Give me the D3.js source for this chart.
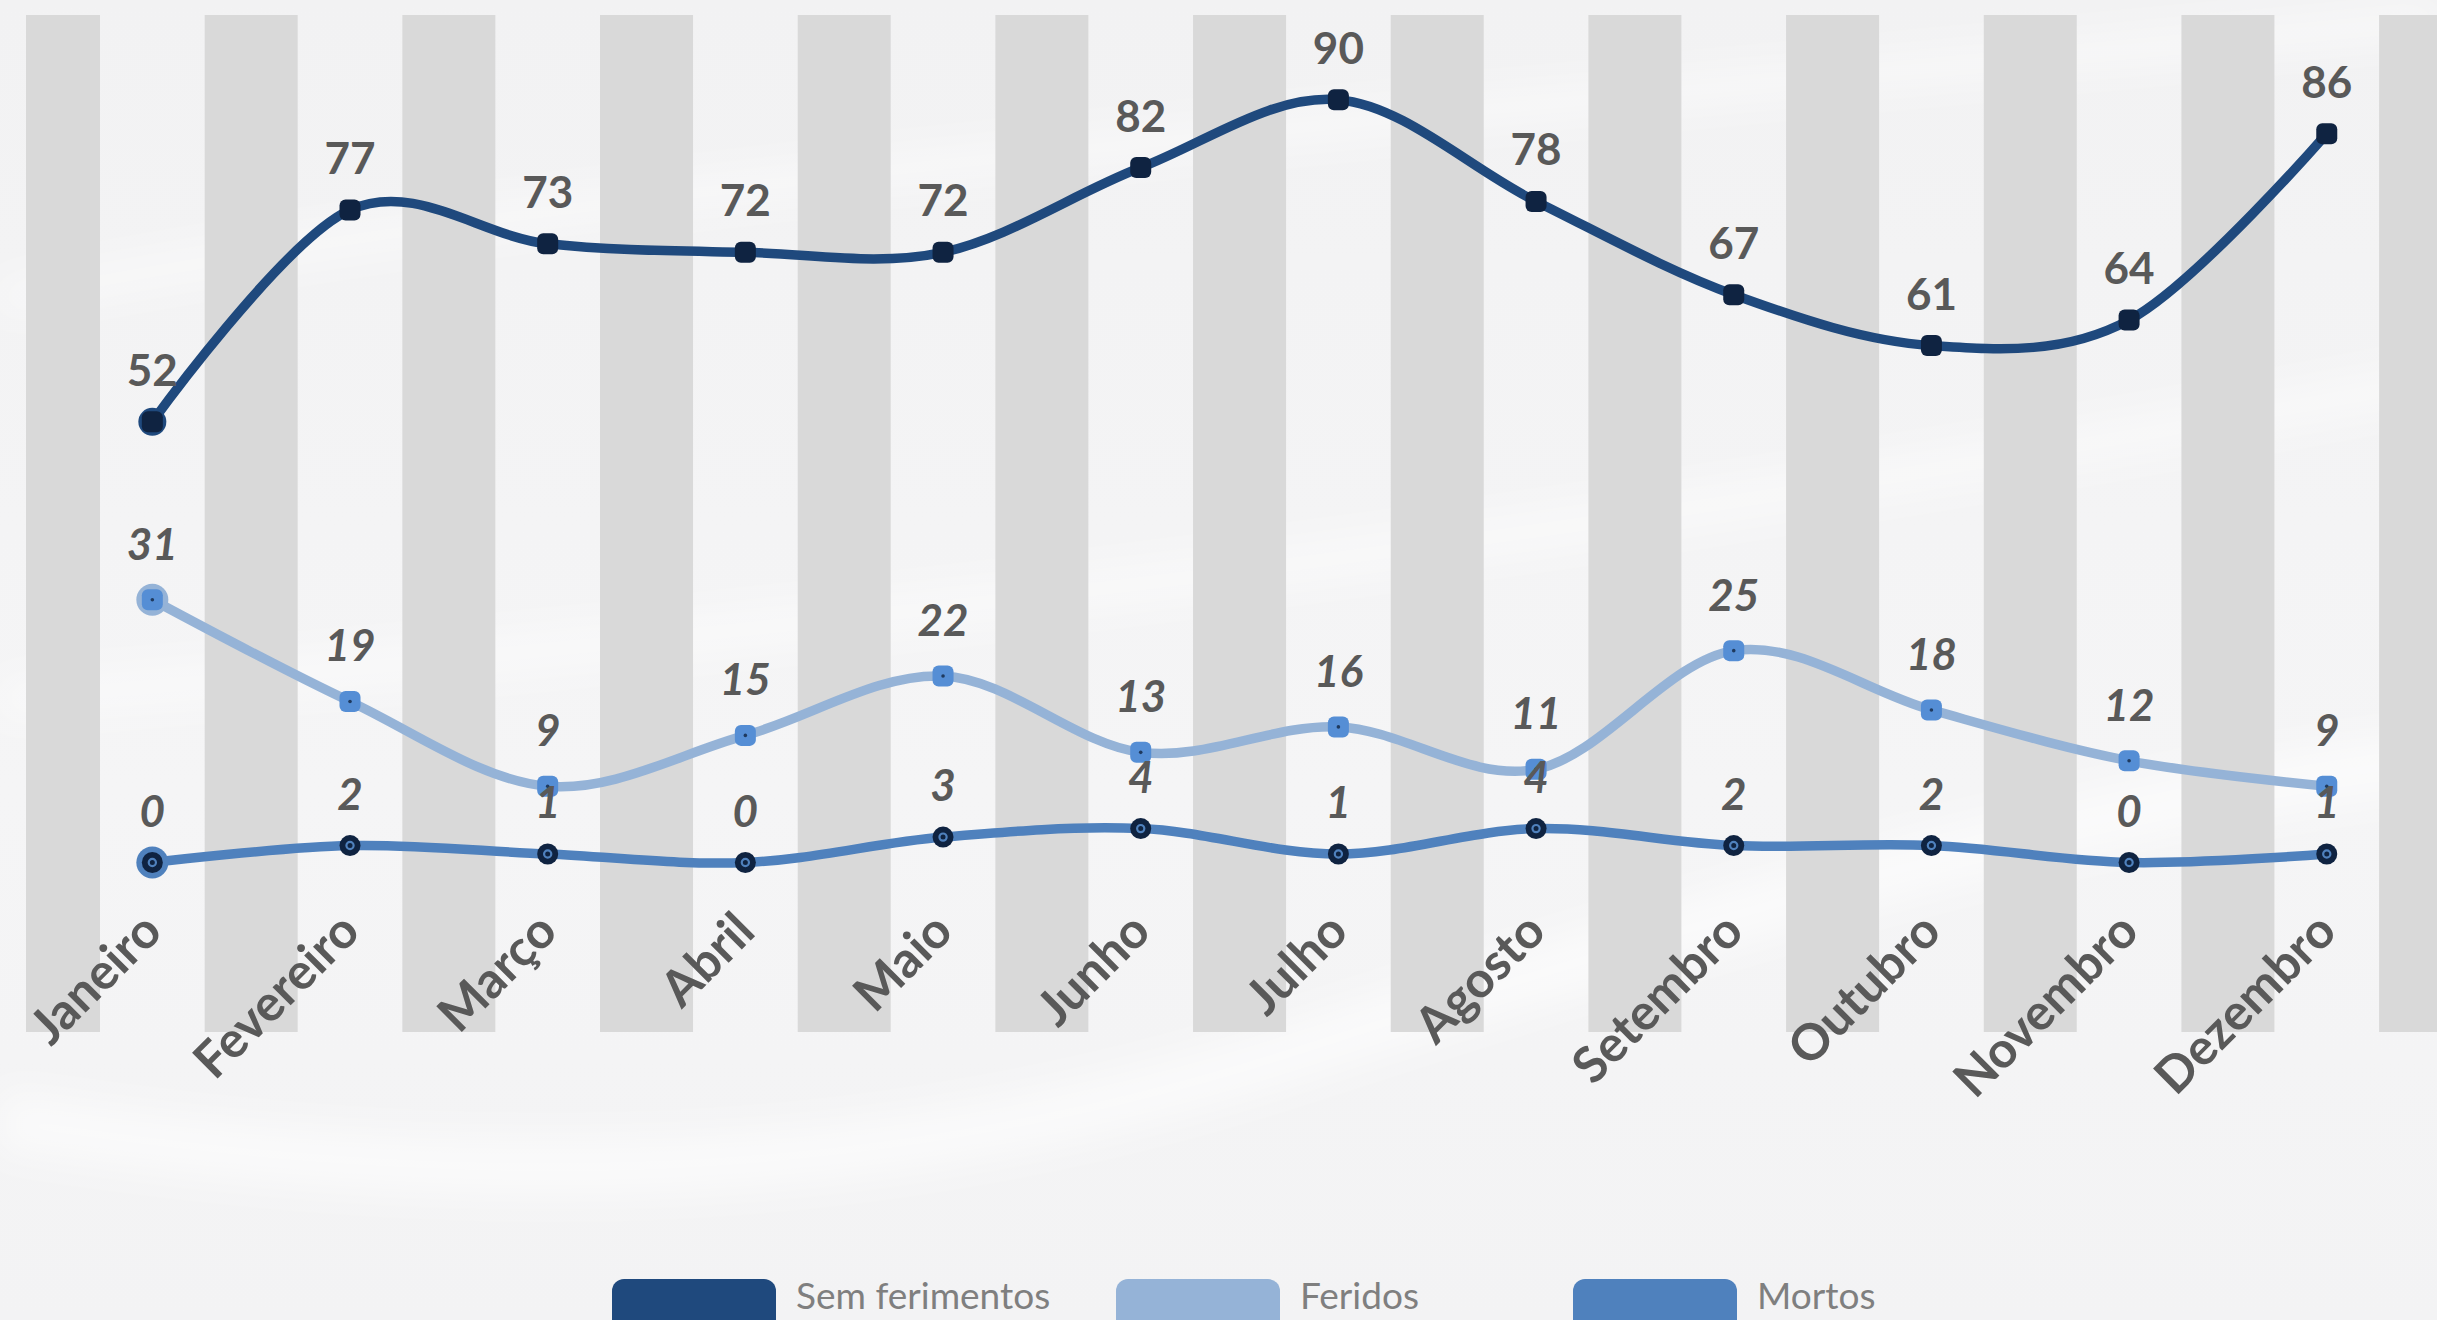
<!DOCTYPE html>
<html>
<head>
<meta charset="utf-8">
<script src="https://cdn.jsdelivr.net/npm/d3@7"></script>
<style>
  html, body { margin: 0; padding: 0; background: #f3f3f4; }
  svg { display: block; }
</style>
</head>
<body>
<svg id="chart" width="2437" height="1320"></svg>
<script>
// ---- data ----
const months = ["Janeiro","Fevereiro","Março","Abril","Maio","Junho","Julho","Agosto","Setembro","Outubro","Novembro","Dezembro"];
const semFerimentos = [52,77,73,72,72,82,90,78,67,61,64,86];
const feridos       = [31,19,9,15,22,13,16,11,25,18,12,9];
const mortos        = [0,2,1,0,3,4,1,4,2,2,0,1];
const seriesNames   = ["Sem ferimentos","Feridos","Mortos"];
const yDomain       = [-20, 100];

// ---- layout ----
const W = 2437, H = 1320;
const plot = { left: 26, top: 15, bottom: 1032, x0: 53.5, x1: 2425.6 };
const svg = d3.select("#chart");

// background
const defs = svg.append("defs");
const bg = defs.append("linearGradient").attr("id","bg").attr("x1",0).attr("y1",0).attr("x2",0).attr("y2",1);
bg.append("stop").attr("offset","0%").attr("stop-color","#f2f2f3");
bg.append("stop").attr("offset","60%").attr("stop-color","#f5f5f6");
bg.append("stop").attr("offset","100%").attr("stop-color","#f3f3f4");
defs.append("filter").attr("id","blur").append("feGaussianBlur").attr("stdDeviation",18);
defs.append("clipPath").attr("id","plotclip").append("rect")
  .attr("x",plot.left).attr("y",0).attr("width",W-plot.left).attr("height",H);
svg.append("rect").attr("width",W).attr("height",H).attr("fill","url(#bg)");
const waves = svg.append("g").attr("filter","url(#blur)").attr("fill","none").attr("stroke","#ffffff");
waves.append("path").attr("d","M0,300 C600,180 1400,120 2437,20").attr("stroke-width",30).attr("opacity",0.5);
waves.append("path").attr("d","M0,700 C700,640 1500,560 2437,380").attr("stroke-width",40).attr("opacity",0.45);
waves.append("path").attr("d","M0,1120 C500,1200 900,1180 1300,1050 S2100,800 2437,760").attr("stroke-width",60).attr("opacity",0.55);

// scales
const x = d3.scaleBand().domain(months).range([plot.x0, plot.x1]).paddingInner(0).paddingOuter(0);
const cx = d => x(d) + x.bandwidth()/2;
const y = d3.scaleLinear().domain(yDomain).range([plot.bottom, plot.top]);

// gray columns at band boundaries
const boundaries = d3.range(months.length + 1).map(i => plot.x0 + i * x.step());
const colW = 93;
svg.append("g").attr("clip-path","url(#plotclip)")
  .selectAll("rect").data(boundaries).join("rect")
  .attr("x", b => b - colW/2).attr("width", colW)
  .attr("y", y(yDomain[1])).attr("height", y(yDomain[0]) - y(yDomain[1]))
  .attr("fill", "#d9d9d9");

// x axis labels
const xAxis = d3.axisBottom(x).tickSize(0).tickPadding(0);
const gx = svg.append("g").call(xAxis);
gx.select(".domain").remove();
gx.selectAll(".tick text")
  .attr("transform", "translate(12, 934) rotate(-45)")
  .attr("y", 0).attr("dy", 0)
  .attr("text-anchor", "end")
  .attr("font-family", "Lato, 'Open Sans', sans-serif")
  .attr("font-weight", 700)
  .attr("font-size", 50)
  .attr("fill", "#595959");

// lines
const line = d3.line().x((d,i) => cx(months[i])).y(d => y(d)).curve(d3.curveCardinal.tension(0));
const styles = [
  { values: semFerimentos, stroke: "#1f497d", legend: "#1f497d", italic: false },
  { values: feridos,       stroke: "#95b3d7", legend: "#95b3d7", italic: true },
  { values: mortos,        stroke: "#4f81bd", legend: "#4f81bd", italic: true }
];
styles.forEach(s => {
  svg.append("path").datum(s.values).attr("d", line)
    .attr("fill","none").attr("stroke", s.stroke).attr("stroke-width", 9.5).attr("stroke-linecap","round");
});

// markers
// Sem ferimentos
const g0 = svg.append("g");
g0.append("circle").attr("cx", cx(months[0])).attr("cy", y(semFerimentos[0])).attr("r", 14).attr("fill", "#1f497d");
g0.selectAll("rect").data(semFerimentos).join("rect")
  .attr("x", (d,i) => cx(months[i]) - 10.5).attr("y", d => y(d) - 10.5)
  .attr("width", 21).attr("height", 21).attr("rx", 6)
  .attr("fill", "#0f2341");

// Feridos
const g1 = svg.append("g");
g1.append("circle").attr("cx", cx(months[0])).attr("cy", y(feridos[0])).attr("r", 16).attr("fill", "#95b3d7");
g1.selectAll("rect").data(feridos).join("rect")
  .attr("x", (d,i) => cx(months[i]) - 10.5).attr("y", d => y(d) - 10.5)
  .attr("width", 21).attr("height", 21).attr("rx", 6)
  .attr("fill", "#558ed5");
g1.selectAll("circle.dot").data(feridos).join("circle").attr("class","dot")
  .attr("cx", (d,i) => cx(months[i])).attr("cy", d => y(d)).attr("r", 1.8).attr("fill", "#1f3a5f");

// Mortos
const g2 = svg.append("g");
g2.append("circle").attr("cx", cx(months[0])).attr("cy", y(mortos[0])).attr("r", 16).attr("fill", "#4f81bd");
g2.selectAll("circle.m").data(mortos).join("circle").attr("class","m")
  .attr("cx", (d,i) => cx(months[i])).attr("cy", d => y(d)).attr("r", 10.5).attr("fill", "#0f2341");
g2.selectAll("circle.in").data(mortos).join("circle").attr("class","in")
  .attr("cx", (d,i) => cx(months[i])).attr("cy", d => y(d)).attr("r", 3.6)
  .attr("fill", "none").attr("stroke", "#4f81bd").attr("stroke-width", 2.2);

// value labels
const labelOffsets = [-36, -40, -36];
styles.forEach((s, k) => {
  svg.append("g").selectAll("text").data(s.values).join("text")
    .attr("x", (d,i) => cx(months[i]))
    .attr("y", d => y(d) + labelOffsets[k])
    .attr("text-anchor", "middle")
    .attr("font-family", "Lato, 'Open Sans', sans-serif")
    .attr("font-weight", 700)
    .attr("font-style", s.italic ? "italic" : "normal")
    .attr("font-size", 44)
    .attr("fill", "#595959")
    .text(d => d);
});

// legend
const legendX = [612, 1116, 1573];
const lg = svg.append("g");
seriesNames.forEach((name, i) => {
  lg.append("rect").attr("x", legendX[i]).attr("y", 1279).attr("width", 164).attr("height", 70)
    .attr("rx", 12).attr("fill", styles[i].legend);
  lg.append("text").attr("x", legendX[i] + 184).attr("y", 1309)
    .attr("font-family", "Lato, 'Open Sans', sans-serif")
    .attr("font-size", 37).attr("fill", "#7f7f7f")
    .text(name);
});
</script>
</body>
</html>
